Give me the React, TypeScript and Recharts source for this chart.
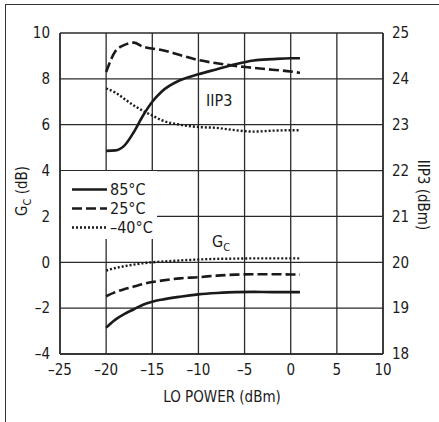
import { LineChart, Line, XAxis, YAxis, CartesianGrid } from 'recharts';

const FONT = "'Liberation Sans Narrow', 'DejaVu Sans Condensed', 'Roboto', sans-serif";
const INK = '#1a1a1a';

// LO power sweep points (dBm)
const loPower = [-20, -19, -18, -17, -16, -15, -14, -12, -10, -8, -6, -4, -2, 0, 1];

// conversion gain (dB), left axis
const gc85 = [-2.85, -2.5, -2.25, -2.05, -1.85, -1.72, -1.63, -1.5, -1.4, -1.34, -1.3, -1.29, -1.3, -1.3, -1.3];
const gc25 = [-1.48, -1.3, -1.17, -1.06, -0.95, -0.86, -0.8, -0.7, -0.65, -0.58, -0.54, -0.52, -0.52, -0.53, -0.53];
const gcM40 = [-0.36, -0.25, -0.17, -0.1, -0.04, 0, 0.03, 0.08, 0.12, 0.15, 0.16, 0.17, 0.17, 0.17, 0.17];

// IIP3 (dBm), right axis
const iip85 = [22.43, 22.44, 22.55, 22.84, 23.2, 23.5, 23.72, 23.97, 24.1, 24.21, 24.32, 24.4, 24.43, 24.45, 24.45];
const iip25 = [24.15, 24.6, 24.74, 24.79, 24.7, 24.66, 24.63, 24.52, 24.41, 24.34, 24.28, 24.24, 24.2, 24.16, 24.13];
const iipM40 = [23.79, 23.7, 23.56, 23.42, 23.3, 23.2, 23.1, 23.0, 22.95, 22.93, 22.88, 22.85, 22.87, 22.88, 22.88];

const xTicks = [-25, -20, -15, -10, -5, 0, 5, 10];
const gcTicks = [-4, -2, 0, 2, 4, 6, 8, 10];
const iipTicks = [18, 19, 20, 21, 22, 23, 24, 25];

const tempLabels = ['85°C', '25°C', '\u201340°C'];
const dashes = [undefined, '10 4', '2 2'];

const chartData = loPower.map((x, i) => ({
  x,
  gc85: gc85[i],
  gc25: gc25[i],
  gcM40: gcM40[i],
  iip85: iip85[i],
  iip25: iip25[i],
  iipM40: iipM40[i],
}));

const gcKeys = ['gc85', 'gc25', 'gcM40'];
const iipKeys = ['iip85', 'iip25', 'iipM40'];

const fmt = (v: number) => String(v).replace('-', '\u2013');
const tickStyle = { fontSize: 15, fill: INK, fontFamily: FONT };

function TempLegend() {
  return (
    <div style={{ position: 'absolute', left: 61, top: 171, width: 96, height: 68, background: '#fff', fontFamily: FONT }}>
      {tempLabels.map((t, i) => (
        <div key={t} style={{ position: 'absolute', left: 0, top: 9 + i * 19, height: 19, display: 'flex', alignItems: 'center' }}>
          <svg width={48} height={19}>
            <line x1={11} x2={46} y1={9.5} y2={9.5} stroke={INK} strokeWidth={i === 2 ? 2.4 : 2.6} strokeDasharray={dashes[i]} />
          </svg>
          <span style={{ fontSize: 16, color: INK, marginLeft: 1 }}>{t}</span>
        </div>
      ))}
    </div>
  );
}

export default function App() {
  return (
    <div style={{ position: 'absolute', left: 0, top: 0, width: 439, height: 422, background: '#fff' }}>
      <div style={{ position: 'absolute', left: 5, top: 4, width: 434, height: 418, borderTop: '1.5px solid #333', borderLeft: '1.5px solid #333' }} />
      <LineChart width={439} height={422} data={chartData} margin={{ top: 33, right: 0, bottom: 0, left: 0 }}>
        <CartesianGrid yAxisId="gc" stroke="#2a2a2a" strokeWidth={1.3} />
        <XAxis
          dataKey="x"
          type="number"
          domain={[-25, 10]}
          ticks={xTicks}
          tickFormatter={fmt}
          height={68}
          tickSize={0}
          tickMargin={10}
          axisLine={{ stroke: '#2a2a2a', strokeWidth: 1.5 }}
          tick={tickStyle}
        />
        <YAxis
          yAxisId="gc"
          domain={[-4, 10]}
          ticks={gcTicks}
          tickFormatter={fmt}
          width={60}
          tickSize={0}
          tickMargin={10}
          axisLine={{ stroke: '#2a2a2a', strokeWidth: 1.5 }}
          tick={tickStyle}
        />
        <YAxis
          yAxisId="iip3"
          orientation="right"
          domain={[18, 25]}
          ticks={iipTicks}
          width={56}
          tickSize={0}
          tickMargin={9}
          axisLine={{ stroke: '#2a2a2a', strokeWidth: 1.5 }}
          tick={{ ...tickStyle, textAnchor: 'start' }}
        />
        {gcKeys.map((k, i) => (
          <Line key={k} yAxisId="gc" type="monotone" dataKey={k} stroke={INK} strokeWidth={i === 2 ? 2.4 : 2.6} strokeDasharray={dashes[i]} dot={false} isAnimationActive={false} />
        ))}
        {iipKeys.map((k, i) => (
          <Line key={k} yAxisId="iip3" type="monotone" dataKey={k} stroke={INK} strokeWidth={i === 2 ? 2.4 : 2.6} strokeDasharray={dashes[i]} dot={false} isAnimationActive={false} />
        ))}
      </LineChart>
      <TempLegend />
      <div style={{ position: 'absolute', left: 206, top: 91, fontFamily: FONT, fontSize: 16, color: INK }}>IIP3</div>
      <div style={{ position: 'absolute', left: 212, top: 232, fontFamily: FONT, fontSize: 16, color: INK }}>
        G<sub style={{ fontSize: 11 }}>C</sub>
      </div>
      <div style={{ position: 'absolute', left: 23, top: 191, transform: 'translate(-50%, -50%) rotate(-90deg)', fontFamily: FONT, fontSize: 15, color: INK, whiteSpace: 'nowrap' }}>
        G<sub style={{ fontSize: 11 }}>C</sub> (dB)
      </div>
      <div style={{ position: 'absolute', left: 423, top: 195, transform: 'translate(-50%, -50%) rotate(90deg)', fontFamily: FONT, fontSize: 15, color: INK, whiteSpace: 'nowrap' }}>
        IIP3 (dBm)
      </div>
      <div style={{ position: 'absolute', left: 222, top: 397, transform: 'translate(-50%, -50%)', fontFamily: FONT, fontSize: 15, color: INK, whiteSpace: 'nowrap' }}>
        LO POWER (dBm)
      </div>
    </div>
  );
}
